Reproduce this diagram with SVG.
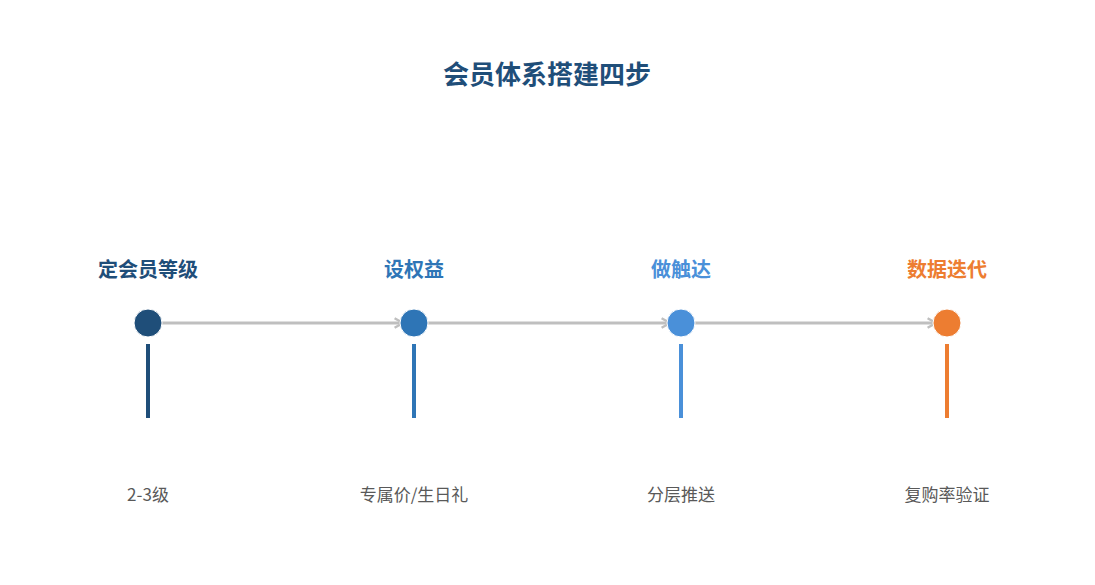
<svg xmlns="http://www.w3.org/2000/svg" width="1095" height="585" viewBox="0 0 1095 585">
<defs>
<style>
.t{font-family:"Noto Sans CJK SC","Liberation Sans",sans-serif;text-anchor:middle}
.h{font-size:20px;font-weight:bold}
.s{font-size:17px;fill:#595959}
.c{fill:none;stroke:#bfbfbf;stroke-width:3}
</style>
<marker id="a" viewBox="0 0 10 10" refX="8" refY="5" markerWidth="4" markerHeight="4" orient="auto"><path d="M1,1 L8,5 L1,9" fill="none" stroke="#bfbfbf" stroke-width="2"/></marker>
</defs>
<rect width="1095" height="585" fill="#fff"/>
<text class="t" x="547" y="84" style="font-size:26px;font-weight:bold;fill:#1f4e79">会员体系搭建四步</text>
<g id="connectors">
<line class="c" x1="162" y1="323" x2="403" y2="323" marker-end="url(#a)"/>
<line class="c" x1="428" y1="323" x2="670" y2="323" marker-end="url(#a)"/>
<line class="c" x1="695" y1="323" x2="936" y2="323" marker-end="url(#a)"/>
</g>
<g id="n1"><text class="t h" x="148" y="277" fill="#1f4e79">定会员等级</text><circle cx="148" cy="323" r="14" fill="#1f4e79" stroke="#fff"/><rect x="146" y="344" width="4" height="74" fill="#1f4e79"/><text class="t s" x="148" y="501">2-3级</text></g>
<g id="n2"><text class="t h" x="414" y="277" fill="#2e75b6">设权益</text><circle cx="414" cy="323" r="14" fill="#2e75b6" stroke="#fff"/><rect x="412" y="344" width="4" height="74" fill="#2e75b6"/><text class="t s" x="414" y="501">专属价/生日礼</text></g>
<g id="n3"><text class="t h" x="681" y="277" fill="#4a90d9">做触达</text><circle cx="681" cy="323" r="14" fill="#4a90d9" stroke="#fff"/><rect x="679" y="344" width="4" height="74" fill="#4a90d9"/><text class="t s" x="681" y="501">分层推送</text></g>
<g id="n4"><text class="t h" x="947" y="277" fill="#ed7d31">数据迭代</text><circle cx="947" cy="323" r="14" fill="#ed7d31" stroke="#fff"/><rect x="945" y="344" width="4" height="74" fill="#ed7d31"/><text class="t s" x="947" y="501">复购率验证</text></g>
</svg>
